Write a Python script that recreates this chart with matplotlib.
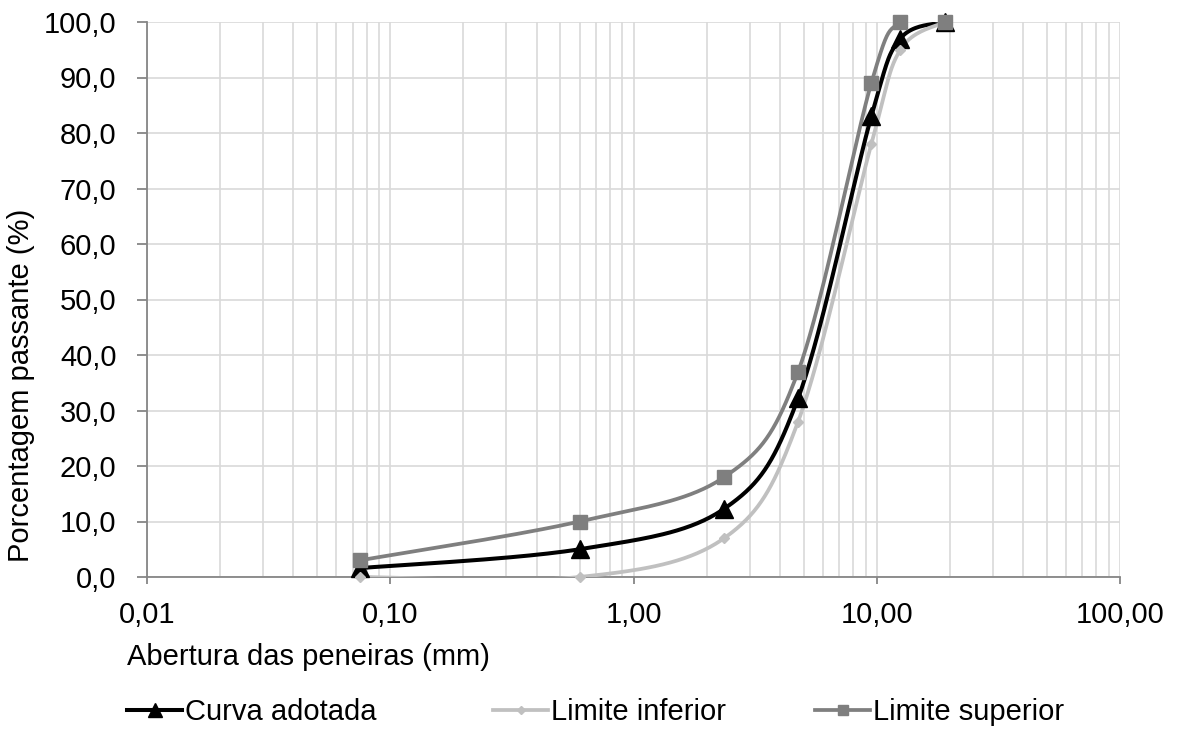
import numpy as np
import matplotlib
matplotlib.use("Agg")
import matplotlib.pyplot as plt
import matplotlib.ticker as mticker

plt.rcParams["font.family"] = ["Liberation Sans", "DejaVu Sans"]

# ── Dados ────────────────────────────────────────────────────────────────────
peneiras = [0.075, 0.6, 2.36, 4.75, 9.5, 12.5, 19.0]
curva_adotada = [1.6, 5.0, 12.3, 32.2, 83.0, 97.0, 100.0]
limite_inferior = [0.0, 0.0, 7.0, 28.0, 78.0, 95.0, 100.0]
limite_superior = [3.0, 10.0, 18.0, 37.0, 89.0, 100.0, 100.0]

x_ticks = [0.01, 0.1, 1, 10, 100]
x_tick_labels = ["0,01", "0,10", "1,00", "10,00", "100,00"]
y_ticks = list(range(0, 101, 10))

fig = plt.figure(figsize=(11.83, 7.29), dpi=100)
ax = fig.add_axes([147 / 1183, 1 - 577 / 729, (1120 - 147) / 1183, (577 - 22) / 729])
ax.set_xscale("log")
ax.set_xlim(0.01, 100)
ax.set_ylim(0, 100)


def suavizar(ax, xs, ys, n=40, t=1 / 6):
    # curva suavizada estilo Excel (Bezier em coordenadas de tela)
    pts = ax.transData.transform(np.column_stack([xs, ys]))
    out = []
    m = len(pts)
    for i in range(m - 1):
        p0 = pts[max(i - 1, 0)]
        p1 = pts[i]
        p2 = pts[i + 1]
        p3 = pts[min(i + 2, m - 1)]
        c1 = p1 + (p2 - p0) * t
        c2 = p2 - (p3 - p1) * t
        s = np.linspace(0, 1, n)[:, None]
        seg = ((1 - s) ** 3) * p1 + 3 * ((1 - s) ** 2) * s * c1 + 3 * (1 - s) * s ** 2 * c2 + s ** 3 * p2
        out.append(seg if i == 0 else seg[1:])
    out = np.vstack(out)
    back = ax.transData.inverted().transform(out)
    return back[:, 0], back[:, 1]


series = [
    ("Curva adotada", curva_adotada, "#000000", "^", 12.5, 2.9),
    ("Limite inferior", limite_inferior, "#c0c0c0", "D", 5.5, 2.7),
    ("Limite superior", limite_superior, "#7f7f7f", "s", 9.5, 2.7),
]
pos_legenda = [127, 493, 815]

for (label, ys, cor, mk, ms, lw), xl in zip(series, pos_legenda):
    sx, sy = suavizar(ax, peneiras, ys)
    ax.plot(sx, sy, color=cor, linewidth=lw, zorder=3)
    ax.plot(peneiras, ys, linestyle="none", marker=mk, markersize=ms,
            color=cor, zorder=4, clip_on=False)
    h, = ax.plot([], [], color=cor, linewidth=lw, marker=mk, markersize=ms * 0.8)
    fig.legend(handles=[h], labels=[label], loc="center left",
               bbox_to_anchor=(xl / 1183, 1 - 712 / 729), frameon=False,
               fontsize=21, handlelength=1.9, handletextpad=0.1,
               borderpad=0, borderaxespad=0)

# ── Eixos e grade ───────────────────────────────────────────────────────────
ax.set_xticks(x_ticks)
ax.set_xticklabels(x_tick_labels)
ax.xaxis.set_minor_locator(mticker.LogLocator(base=10, subs=np.arange(2, 10)))
ax.xaxis.set_minor_formatter(mticker.NullFormatter())
ax.set_yticks(y_ticks)
ax.yaxis.set_major_formatter(mticker.FuncFormatter(lambda v, _: f"{v:.1f}".replace(".", ",")))

ax.grid(True, which="both", axis="x", color="#d9d9d9", linewidth=1.2)
ax.grid(True, which="major", axis="y", color="#d9d9d9", linewidth=1.2)
ax.set_axisbelow(True)

for s in ["top", "right"]:
    ax.spines[s].set_visible(False)
for s in ["left", "bottom"]:
    ax.spines[s].set_color("#868686")
    ax.spines[s].set_linewidth(1.3)

ax.tick_params(axis="both", which="major", direction="out", width=1.3,
               color="#868686", labelsize=21, labelcolor="black")
ax.tick_params(axis="y", which="major", length=7, pad=15)
ax.tick_params(axis="x", which="major", length=5, pad=12)
ax.tick_params(axis="x", which="minor", length=0)

ax.set_ylabel("Porcentagem passante (%)", fontsize=21)
ax.yaxis.set_label_coords((35 - 147) / 973, (577 - 385) / 555)
fig.text(127 / 1183, 1 - 657 / 729, "Abertura das peneiras (mm)", fontsize=21,
         ha="left", va="center")

fig.savefig("out.png", dpi=100)
